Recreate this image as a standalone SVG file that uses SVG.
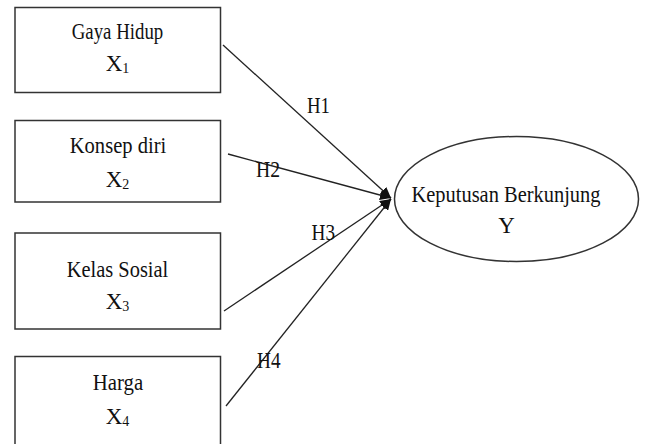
<svg xmlns="http://www.w3.org/2000/svg" width="645" height="444" viewBox="0 0 645 444">
<defs>
<style>
.box{fill:#fff;stroke:#333;stroke-width:1.5}
.t{font-family:"Liberation Serif","Times New Roman",serif;font-size:23px;fill:#111;text-anchor:middle}
.h{font-family:"Liberation Serif","Times New Roman",serif;font-size:23px;fill:#111}
.sub{font-size:14px}
.c{stroke:#222;stroke-width:1.3;fill:none;marker-end:url(#arr)}
</style>
<marker id="arr" markerUnits="userSpaceOnUse" markerWidth="12" markerHeight="10" refX="11" refY="5" orient="auto">
<path d="M0,0 L11,5 L0,10 Z" fill="#111"/>
</marker>
</defs>
<rect width="645" height="444" fill="#fff"/>
<g id="connectors">
<line class="c" x1="223" y1="45" x2="391" y2="198"/>
<line class="c" x1="228" y1="154" x2="391" y2="198"/>
<line class="c" x1="224" y1="311" x2="391" y2="199"/>
<line class="c" x1="226" y1="406" x2="391" y2="199"/>
<text class="h" x="307" y="112.5" textLength="23" lengthAdjust="spacingAndGlyphs">H1</text>
<text class="h" x="256" y="177" textLength="24" lengthAdjust="spacingAndGlyphs">H2</text>
<text class="h" x="311.5" y="240" textLength="23.5" lengthAdjust="spacingAndGlyphs">H3</text>
<text class="h" x="257" y="368" textLength="23.5" lengthAdjust="spacingAndGlyphs">H4</text>
</g>
<g id="node-x1">
<rect class="box" x="15" y="7.5" width="205.5" height="85"/>
<text class="t" x="117.5" y="38.5" textLength="91.5" lengthAdjust="spacingAndGlyphs">Gaya Hidup</text>
<text class="t" x="117.5" y="70.5">X<tspan class="sub" dy="2">1</tspan></text>
</g>
<g id="node-x2">
<rect class="box" x="15" y="120.5" width="205.5" height="81.5"/>
<text class="t" x="118" y="153" textLength="96.5" lengthAdjust="spacingAndGlyphs">Konsep diri</text>
<text class="t" x="117.5" y="187">X<tspan class="sub" dy="2">2</tspan></text>
</g>
<g id="node-x3">
<rect class="box" x="15" y="233" width="205.5" height="96"/>
<text class="t" x="117.5" y="277" textLength="101.5" lengthAdjust="spacingAndGlyphs">Kelas Sosial</text>
<text class="t" x="117.5" y="309">X<tspan class="sub" dy="2">3</tspan></text>
</g>
<g id="node-x4">
<rect class="box" x="15" y="356.5" width="205.5" height="100"/>
<text class="t" x="118" y="390" textLength="50.5" lengthAdjust="spacingAndGlyphs">Harga</text>
<text class="t" x="117.5" y="424">X<tspan class="sub" dy="2">4</tspan></text>
</g>
<g id="node-y">
<ellipse class="box" cx="516.5" cy="199" rx="122" ry="62.5"/>
<text class="t" x="506" y="201.5" textLength="189" lengthAdjust="spacingAndGlyphs">Keputusan Berkunjung</text>
<text class="t" x="506.5" y="233">Y</text>
</g>
</svg>
